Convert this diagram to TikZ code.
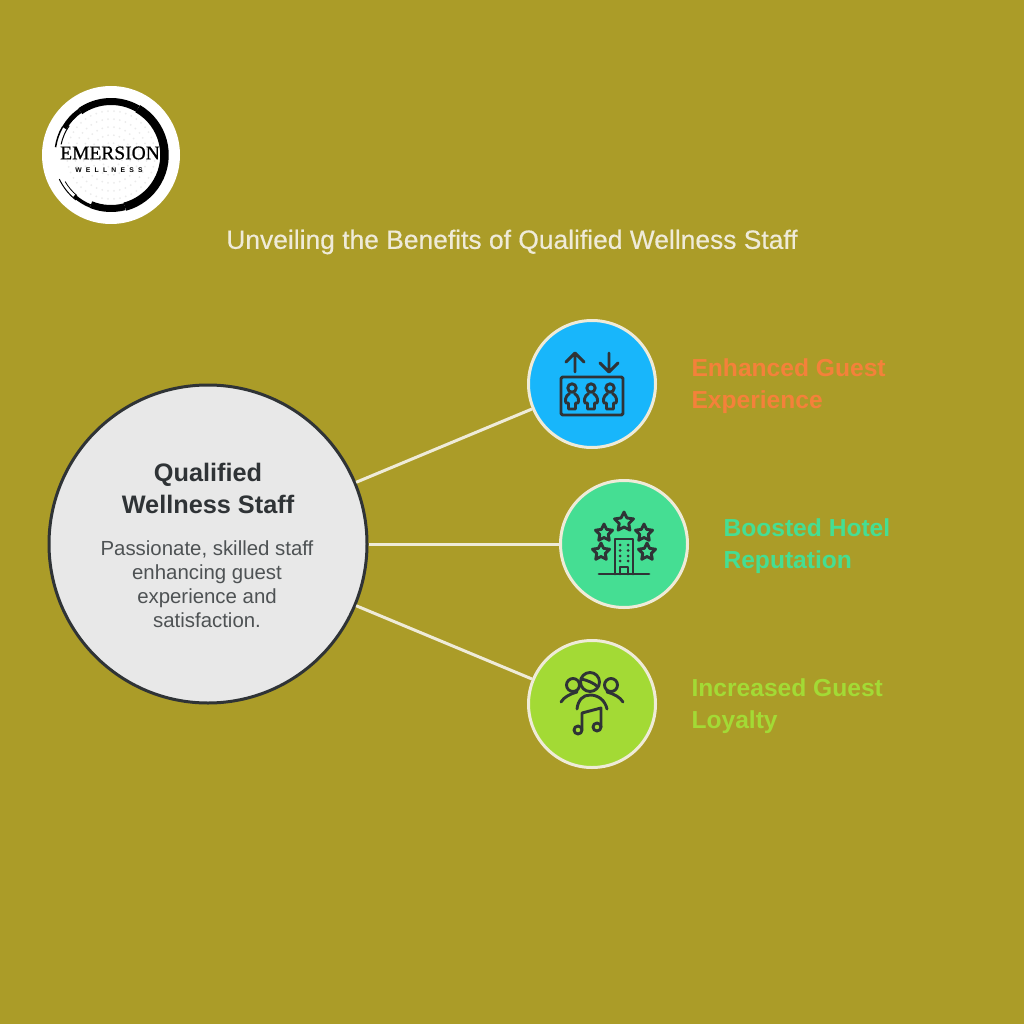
\documentclass[tikz,border=0pt]{standalone}
\usepackage{fontspec}
\usepackage{tikz}
\usetikzlibrary{shapes.geometric}
\setmainfont{Liberation Sans}
\newfontfamily\logoserif[FakeBold=0.6]{Liberation Serif}
\newfontfamily\logosans[LetterSpace=62]{Liberation Sans}
\newfontfamily\titlesans[FakeBold=0.5]{Liberation Sans}
\definecolor{olivebg}{HTML}{AB9C28}
\definecolor{darkink}{HTML}{2F3336}
\definecolor{creamline}{HTML}{EFEBD8}
\definecolor{guestblue}{HTML}{18B6FB}
\definecolor{hotelgreen}{HTML}{45DE93}
\definecolor{loyallime}{HTML}{A3DA35}
\definecolor{guestorange}{HTML}{F4813A}
\tikzset{
  iconcircle/.style={circle,draw=creamline,line width=3pt,minimum size=127pt,inner sep=0pt},
  linklabel/.style={anchor=west,align=left,font=\fontsize{24.6}{32}\selectfont\bfseries},
  iconline/.style={draw=darkink,line width=2.9pt,line cap=round,line join=round},
  starmark/.style={star,star points=5,star point ratio=2,draw=darkink,line width=2.9pt,line join=round,minimum size=18pt,inner sep=0pt}
}
\begin{document}
\begin{tikzpicture}[x=1pt,y=-1pt]
	\useasboundingbox (0,0) rectangle (1024,1024);
	\fill[olivebg] (0,0) rectangle (1024,1024);

	% logo
	\node[circle,fill=white,minimum size=138pt,inner sep=0pt] (logo) at (111,155) {};
	\foreach \r/\n in {12/14,20/22,28/30,36/38,44/46}
		\foreach \i in {1,...,\n}
			\fill[black!8] (111,155) ++({360/\n*\i}:\r) circle (1);
	\draw[black,line width=1.5pt] (111,155) ++(-172:56) arc (-172:-150:56);
	\draw[black,line width=1pt] (111,155) ++(-168:51) arc (-168:-145:51);
	\draw[black,line width=5pt] (111,155) ++(-150:54) arc (-150:-125:54);
	\draw[black,line width=7pt] (111,155) ++(-125:53.5) arc (-125:-60:53.5);
	\draw[black,line width=8.5pt] (111,155) ++(-60:53.5) arc (-60:75:53.5);
	\draw[black,line width=7pt] (111,155) ++(75:53.5) arc (75:112:53.5);
	\draw[black,line width=3.5pt] (111,155) ++(112:55) arc (112:132:55);
	\draw[black,line width=1pt] (111,155) ++(128:57) arc (128:155:57);
	\draw[black,line width=0.8pt] (111,155) ++(130:53) arc (130:150:53);
	\node[font=\logoserif\fontsize{19.5}{20}\selectfont] (logoname) at (110,153) {EMERSION};
	\node[font=\logosans\fontsize{6.8}{7}\selectfont\bfseries] (logosub) at (109,170) {WELLNESS};

	% title
	\node[text=creamline,font=\titlesans\fontsize{26.4}{30}\selectfont] (title) at (512,242) {Unveiling the Benefits of Qualified Wellness Staff};

	% circles
	\node[circle,draw=darkink,fill=black!9,line width=3pt,minimum size=318pt,inner sep=0pt] (hub) at (208,544) {};
	\node[iconcircle,fill=guestblue] (guest) at (592,384) {};
	\node[iconcircle,fill=hotelgreen] (hotel) at (624,544) {};
	\node[iconcircle,fill=loyallime] (loyal) at (592,704) {};

	\draw[creamline,line width=3pt] (hub) -- (guest);
	\draw[creamline,line width=3pt] (hub) -- (hotel);
	\draw[creamline,line width=3pt] (hub) -- (loyal);

	% hub text
	\node[text=darkink,align=center,font=\fontsize{25.3}{32}\selectfont\bfseries] (hubtitle) at (208,488) {Qualified\\Wellness Staff};
	\node[text=darkink!85,align=center,font=\fontsize{20.4}{24}\selectfont] (hubtext) at (207,584) {Passionate, skilled staff\\enhancing guest\\experience and\\satisfaction.};

	% labels
	\node[linklabel,text=guestorange] (guestlabel) at (688,386) {Enhanced Guest\\Experience};
	\node[linklabel,text=hotelgreen] (hotellabel) at (720,546) {Boosted Hotel\\Reputation};
	\node[linklabel,text=loyallime] (loyallabel) at (688,706) {Increased Guest\\Loyalty};

	% lift icon
	\draw[iconline] (575,372) -- (575,354) (566,362) -- (575,353) -- (584,362);
	\draw[iconline] (609,353) -- (609,371) (600,363) -- (609,372) -- (618,363);
	\draw[iconline,rounded corners=1.5pt] (561,377) rectangle (623,415);
	\foreach \x in {572,591,610} {
		\draw[iconline] (\x,388) circle (4.2);
		\draw[iconline] (\x-2.5,393.5) .. controls (\x-7,396) and (\x-7,401) .. (\x-6,403) -- (\x-3.5,403) -- (\x-3.5,409) -- (\x+3.5,409) -- (\x+3.5,403) -- (\x+6,403) .. controls (\x+7,401) and (\x+7,396) .. (\x+2.5,393.5);
	}

	% hotel icon
	\node[starmark,minimum size=20pt] (star1) at (624,522) {};
	\node[starmark] (star2) at (604,533) {};
	\node[starmark] (star3) at (644,533) {};
	\node[starmark] (star4) at (601,552) {};
	\node[starmark] (star5) at (647,552) {};
	\draw[iconline] (615,574) -- (615,539) -- (633,539) -- (633,574);
	\draw[iconline] (599,574) -- (649,574);
	\draw[iconline] (620,574) -- (620,567) -- (628,567) -- (628,574);
	\foreach \x in {620,628}
		\foreach \y in {545,550.5,556,561}
			\fill[darkink] (\x,\y) circle (1.5);

	% loyalty icon
	\draw[iconline] (590,682) circle (9.5);
	\draw[iconline] (581,679) .. controls (587,680) and (594,683) .. (598,687);
	\draw[iconline] (573,685) circle (6.5);
	\draw[iconline] (611,685) circle (6.5);
	\draw[iconline] (577,709) .. controls (578,700) and (583,695) .. (590,695) .. controls (598,695) and (605,700) .. (607,709);
	\draw[iconline] (561,702) .. controls (564,697) and (570,694) .. (577,692);
	\draw[iconline] (623,702) .. controls (620,697) and (614,694) .. (607,692);
	\draw[iconline] (578,730) circle (4);
	\draw[iconline] (597,727) circle (4);
	\draw[iconline] (582,729) -- (582,713) -- (601,708) -- (601,727);
\end{tikzpicture}
\end{document}
